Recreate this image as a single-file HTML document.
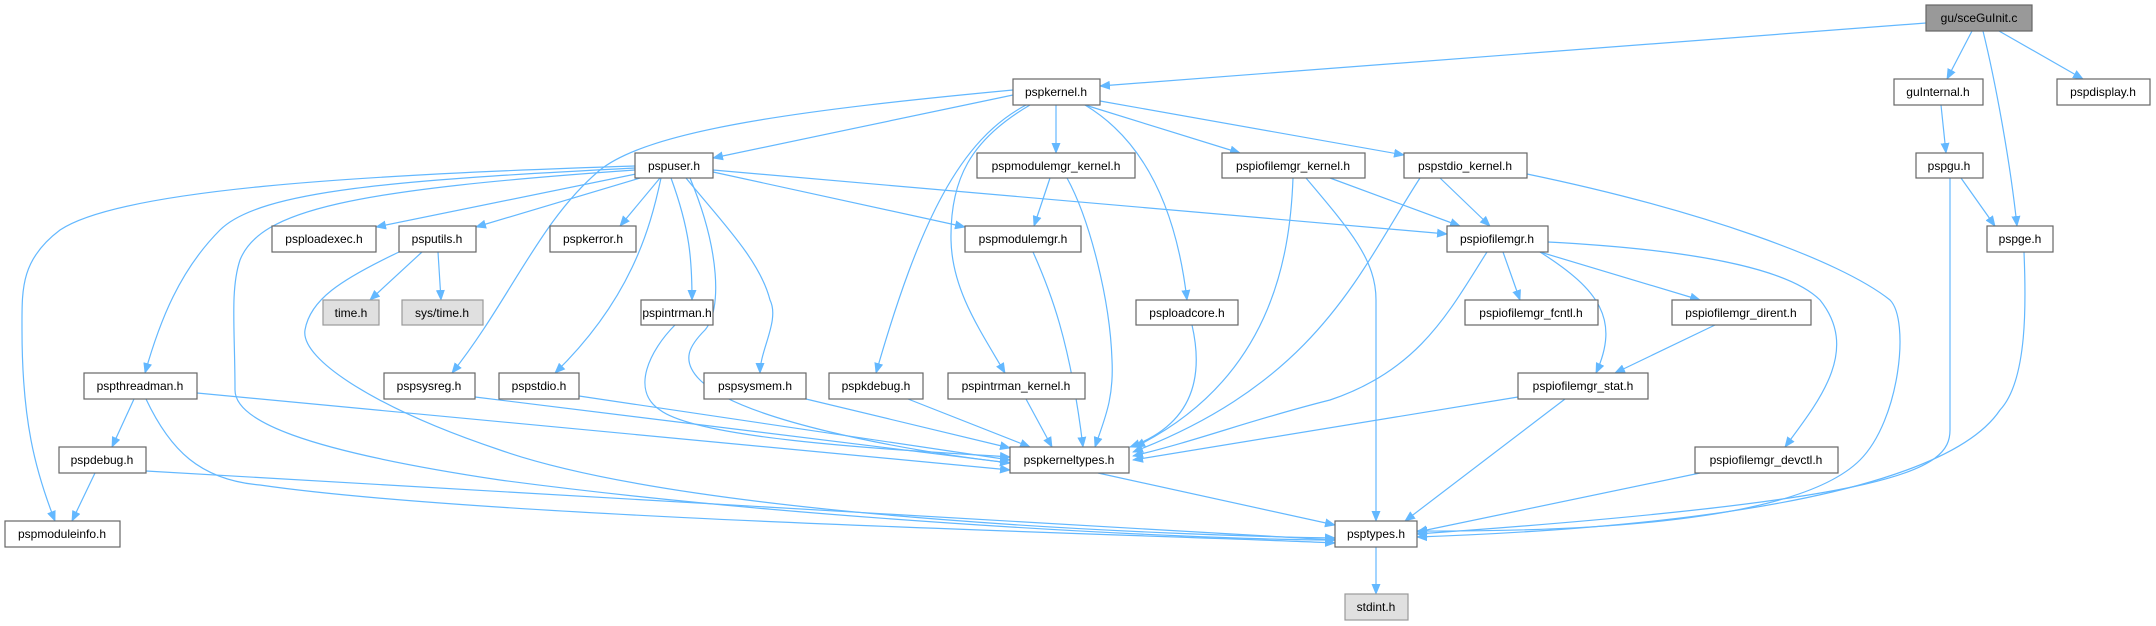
<!DOCTYPE html>
<html><head><meta charset="utf-8"><style>
html,body{margin:0;padding:0;background:#fff;}
svg{display:block;}
text{font-family:"Liberation Sans",Arial,sans-serif;font-size:12px;fill:#000;}
</style></head><body>
<svg width="2156" height="626" viewBox="0 0 2156 626" xmlns="http://www.w3.org/2000/svg">
<defs>
<marker id="a" markerWidth="11" markerHeight="9" refX="10" refY="4.5" orient="auto" markerUnits="userSpaceOnUse">
<path d="M0,0 L11,4.5 L0,9 z" fill="#63b8ff"/>
</marker>
</defs>
<g fill="none" stroke="#63b8ff" stroke-width="1.2" marker-end="url(#a)">
<path d="M1926,23 L1100,86"/>
<path d="M1972,31 L1947,79"/>
<path d="M1983,31 C1995,80 2010,160 2017,226"/>
<path d="M1999,31 L2083,79"/>
<path d="M1941,105 L1946,153"/>
<path d="M1961,178 L1995,226"/>
<path d="M1950,178 L1950,430 C1950,470 1900,500 1417,534"/>
<path d="M2024,252 C2026,300 2028,380 2000,410 C1980,440 1900,520 1417,537"/>
<path d="M1013,95 L713,158"/>
<path d="M1013,90 C800,110 650,130 600,170 C540,220 510,300 452,373"/>
<path d="M1056,105 L1056,153"/>
<path d="M1085,105 L1240,153"/>
<path d="M1100,101 L1404,155"/>
<path d="M1085,105 C1160,150 1180,240 1187,300"/>
<path d="M1026,105 C960,140 920,220 876,373"/>
<path d="M1030,105 C970,140 950,180 951,240 C952,290 980,330 1005,373"/>
<path d="M636,174 L376,227"/>
<path d="M640,178 L476,227"/>
<path d="M660,178 L620,226"/>
<path d="M671,178 C690,230 692,260 692,300"/>
<path d="M713,172 L965,227"/>
<path d="M713,170 L1447,234"/>
<path d="M635,168 C400,180 260,190 220,230 C180,270 160,320 145,373"/>
<path d="M635,166 C350,175 120,190 60,230 C20,260 22,290 22,330 C22,420 35,470 55,521"/>
<path d="M661,178 C650,230 630,300 555,373"/>
<path d="M686,178 C720,220 760,260 770,300 C780,320 760,350 760,373"/>
<path d="M690,178 C720,250 722,310 705,330 C690,345 680,360 700,380 C740,420 900,450 1010,463"/>
<path d="M635,170 C350,190 260,210 240,260 C230,290 235,330 235,390 C235,420 300,450 500,480 C800,520 1200,540 1335,540"/>
<path d="M399,252 C340,280 310,300 305,330 C300,360 380,410 500,450 C700,520 1200,536 1335,538"/>
<path d="M422,252 L370,300"/>
<path d="M438,252 L441,300"/>
<path d="M197,393 L1010,470"/>
<path d="M134,399 L112,447"/>
<path d="M146,399 C170,450 200,480 260,485 C500,520 1200,536 1335,543"/>
<path d="M95,473 L72,521"/>
<path d="M146,471 L1335,540"/>
<path d="M475,397 L1010,463"/>
<path d="M579,396 L1010,460"/>
<path d="M675,325 C650,350 630,390 660,410 C700,440 900,450 1010,457"/>
<path d="M806,399 L1010,448"/>
<path d="M908,399 L1030,447"/>
<path d="M1026,399 L1052,447"/>
<path d="M1033,252 C1050,290 1070,340 1083,447"/>
<path d="M1050,178 L1034,226"/>
<path d="M1067,178 C1090,220 1110,300 1112,360 C1114,400 1104,420 1095,447"/>
<path d="M1192,325 C1200,360 1205,420 1130,447"/>
<path d="M1293,178 C1290,260 1270,380 1135,447"/>
<path d="M1306,178 C1350,230 1376,260 1376,300 L1376,521"/>
<path d="M1330,178 L1460,226"/>
<path d="M1440,178 L1490,226"/>
<path d="M1420,178 C1360,270 1320,380 1133,452"/>
<path d="M1527,174 C1700,210 1840,260 1890,300 C1910,320 1900,420 1860,460 C1800,520 1600,532 1417,531"/>
<path d="M1487,252 C1450,310 1420,370 1330,400 C1250,420 1200,440 1133,456"/>
<path d="M1503,252 L1520,300"/>
<path d="M1540,252 L1700,300"/>
<path d="M1540,252 C1600,290 1620,320 1596,373"/>
<path d="M1548,242 C1700,250 1790,270 1820,300 C1860,350 1820,400 1785,447"/>
<path d="M1715,325 L1615,373"/>
<path d="M1518,397 L1133,460"/>
<path d="M1565,399 L1405,521"/>
<path d="M1700,473 L1417,532"/>
<path d="M1098,473 L1335,525"/>
<path d="M1376,547 L1376,594"/>
</g>
<g stroke="#666" stroke-width="1.2" fill="#fff">
<rect x="1926" y="5" width="106" height="26" fill="#999"/>
<rect x="1013" y="79" width="87" height="26"/>
<rect x="1894" y="79" width="89" height="26"/>
<rect x="2057" y="79" width="93" height="26"/>
<rect x="635" y="153" width="78" height="25"/>
<rect x="977" y="153" width="158" height="25"/>
<rect x="1222" y="153" width="143" height="25"/>
<rect x="1404" y="153" width="123" height="25"/>
<rect x="1916" y="153" width="67" height="25"/>
<rect x="272" y="226" width="104" height="26"/>
<rect x="399" y="226" width="77" height="26"/>
<rect x="550" y="226" width="86" height="26"/>
<rect x="965" y="226" width="116" height="26"/>
<rect x="1447" y="226" width="101" height="26"/>
<rect x="1987" y="226" width="66" height="26"/>
<rect x="323" y="300" width="56" height="25" fill="#e0e0e0" stroke="#999"/>
<rect x="402" y="300" width="81" height="25" fill="#e0e0e0" stroke="#999"/>
<rect x="641" y="300" width="72" height="25"/>
<rect x="1136" y="300" width="102" height="25"/>
<rect x="1465" y="300" width="133" height="25"/>
<rect x="1672" y="300" width="139" height="25"/>
<rect x="84" y="373" width="113" height="26"/>
<rect x="384" y="373" width="91" height="26"/>
<rect x="499" y="373" width="80" height="26"/>
<rect x="704" y="373" width="102" height="26"/>
<rect x="829" y="373" width="94" height="26"/>
<rect x="948" y="373" width="137" height="26"/>
<rect x="1518" y="373" width="130" height="26"/>
<rect x="59" y="447" width="87" height="26"/>
<rect x="1010" y="447" width="119" height="26"/>
<rect x="1695" y="447" width="143" height="26"/>
<rect x="5" y="521" width="115" height="26"/>
<rect x="1335" y="521" width="82" height="26"/>
<rect x="1345" y="594" width="63" height="26" fill="#e0e0e0" stroke="#999"/>
</g>
<g text-anchor="middle">
<text x="1979" y="22">gu/sceGuInit.c</text>
<text x="1056" y="96">pspkernel.h</text>
<text x="1938" y="96">guInternal.h</text>
<text x="2103" y="96">pspdisplay.h</text>
<text x="674" y="170">pspuser.h</text>
<text x="1056" y="170">pspmodulemgr_kernel.h</text>
<text x="1293" y="170">pspiofilemgr_kernel.h</text>
<text x="1465" y="170">pspstdio_kernel.h</text>
<text x="1949" y="170">pspgu.h</text>
<text x="324" y="243">psploadexec.h</text>
<text x="437" y="243">psputils.h</text>
<text x="593" y="243">pspkerror.h</text>
<text x="1023" y="243">pspmodulemgr.h</text>
<text x="1497" y="243">pspiofilemgr.h</text>
<text x="2020" y="243">pspge.h</text>
<text x="351" y="317">time.h</text>
<text x="442" y="317">sys/time.h</text>
<text x="677" y="317">pspintrman.h</text>
<text x="1187" y="317">psploadcore.h</text>
<text x="1531" y="317">pspiofilemgr_fcntl.h</text>
<text x="1741" y="317">pspiofilemgr_dirent.h</text>
<text x="140" y="390">pspthreadman.h</text>
<text x="429" y="390">pspsysreg.h</text>
<text x="539" y="390">pspstdio.h</text>
<text x="755" y="390">pspsysmem.h</text>
<text x="876" y="390">pspkdebug.h</text>
<text x="1016" y="390">pspintrman_kernel.h</text>
<text x="1583" y="390">pspiofilemgr_stat.h</text>
<text x="102" y="464">pspdebug.h</text>
<text x="1069" y="464">pspkerneltypes.h</text>
<text x="1766" y="464">pspiofilemgr_devctl.h</text>
<text x="62" y="538">pspmoduleinfo.h</text>
<text x="1376" y="538">psptypes.h</text>
<text x="1376" y="611">stdint.h</text>
</g>
</svg>
</body></html>
